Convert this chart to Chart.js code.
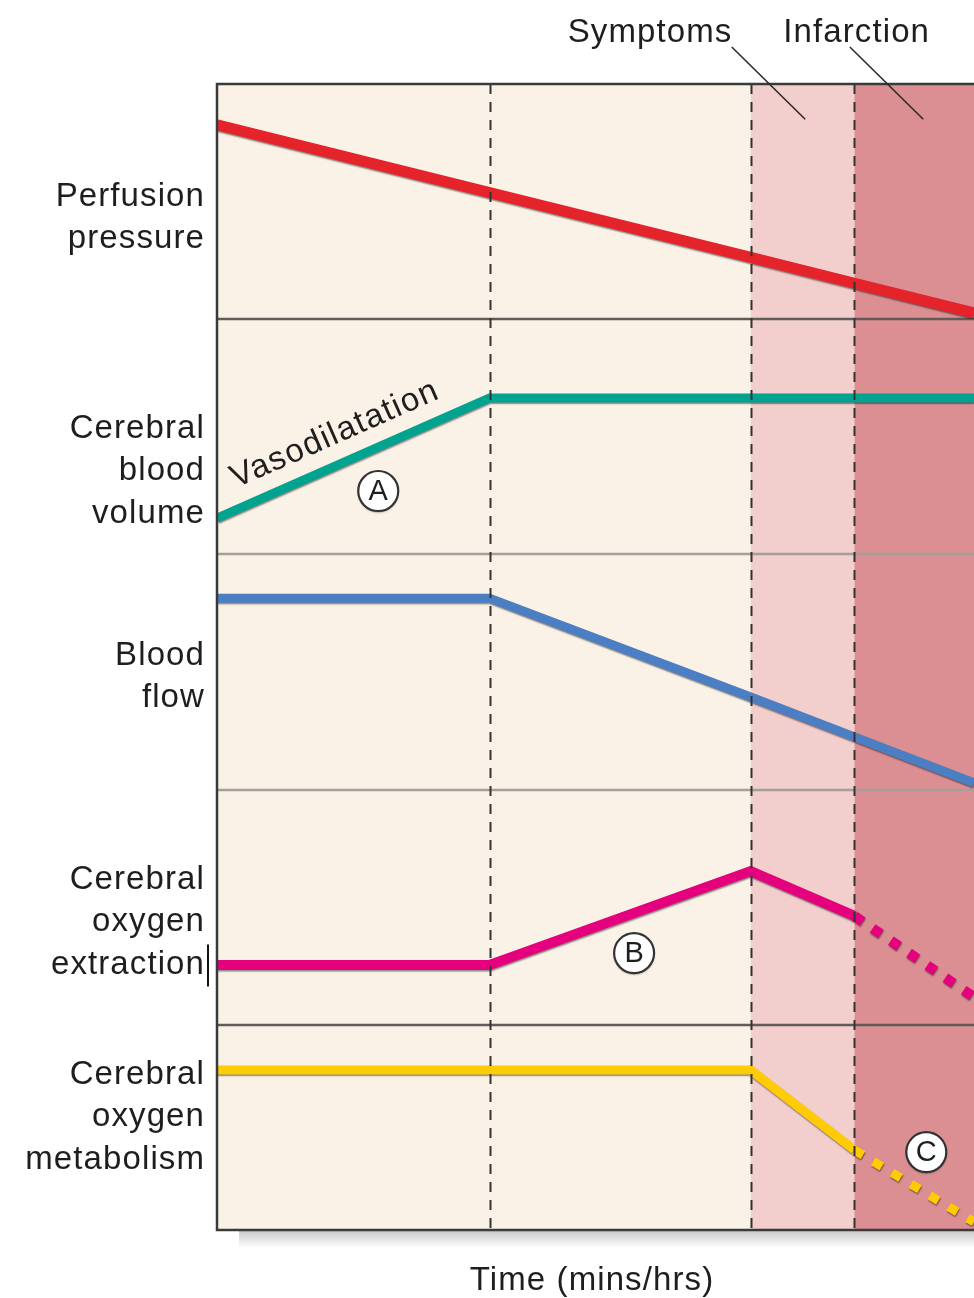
<!DOCTYPE html>
<html>
<head>
<meta charset="utf-8">
<script src="https://cdn.jsdelivr.net/npm/chart.js@4.4.1/dist/chart.umd.min.js"></script>
<style>
  html, body { margin: 0; padding: 0; background: #fff; }
  #wrap { width: 974px; height: 1298px; }
</style>
</head>
<body>
<div id="wrap"><canvas id="chart" width="974" height="1298"></canvas></div>
<script>
// time axis (arbitrary units, mins/hrs)
const times = [0, 3.6, 7.05, 8.42, 10];
const phaseLines = [3.6, 7.05, 8.42];
const zones = [[0, 7.05], [7.05, 8.42], [8.42, 10]];
const zoneColors = ['#FBF2E7', '#F2CECC', '#DC8F93'];

// panels, top to bottom
const panelNames = [
  ['Perfusion', 'pressure'],
  ['Cerebral', 'blood', 'volume'],
  ['Blood', 'flow'],
  ['Cerebral', 'oxygen', 'extraction'],
  ['Cerebral', 'oxygen', 'metabolism']
];
const panelWeights = [235, 235, 236, 235, 205];
const panelLabelY = [43, 35.3, 47.9, 43.8, 55.1];

// series values (0-100 inside each panel)
const perfusionPressure = [82.6, 53.8, 26.2, 15.2, 2.6];
const bloodVolume = [15.3, 66.4, 66.4, 66.4, 66.4];
const bloodFlow = [81.3, 81.3, 39.4, 22.5, 3.0];
const oxygenExtraction = [25.5, 25.5, 65.5, 46.4, 11.9];
const oxygenMetabolism = [78, 78, 78, 39, 3.9];
const dottedFrom = [null, null, null, 3, 3];

const series = [perfusionPressure, bloodVolume, bloodFlow, oxygenExtraction, oxygenMetabolism];
const seriesColors = ['#E4232B', '#00A38F', '#4B7EC3', '#E5007D', '#FFCB05'];
const seriesWidths = [11, 9, 9, 10, 9];

// annotations
const circleNotes = [
  { text: 'A', panel: 1, x: 2.13, y: 26.8 },
  { text: 'B', panel: 3, x: 5.51, y: 30.6 },
  { text: 'C', panel: 4, x: 9.37, y: 38 }
];
const zoneNotes = [
  { text: 'Symptoms', x: 5.72, from: 6.80, to: 7.77, toY: 85 },
  { text: 'Infarction', x: 8.45, from: 8.36, to: 9.33, toY: 85 }
];

const FONT = '"Liberation Sans", Arial, Helvetica, sans-serif';
const TXT = '#1e1e1e';

function setFont(ctx, size, spacing) {
  ctx.font = size + 'px ' + FONT;
  if ('letterSpacing' in ctx) ctx.letterSpacing = (spacing === undefined ? 1.1 : spacing) + 'px';
}

const scales = {
  x: { type: 'linear', min: 0, max: 10, display: false }
};
panelNames.forEach((n, i) => {
  scales['p' + i] = {
    type: 'linear', min: 0, max: 100, display: false,
    position: 'left', stack: 'panels', stackWeight: panelWeights[i],
    weight: panelNames.length - i
  };
});

const panelsPlugin = {
  id: 'panels',
  beforeDatasetsDraw(chart) {
    const { ctx, chartArea: a, scales: s } = chart;
    ctx.save();
    zones.forEach((z, i) => {
      const x0 = s.x.getPixelForValue(z[0]);
      const x1 = s.x.getPixelForValue(z[1]);
      ctx.fillStyle = zoneColors[i];
      ctx.fillRect(x0, a.top, x1 - x0, a.bottom - a.top);
    });
    const sepColors = ['#615c58', '#a69e98', '#a69e98', '#615c58'];
    for (let i = 0; i < panelNames.length - 1; i++) {
      const y = s['p' + i].bottom;
      ctx.strokeStyle = sepColors[i];
      ctx.lineWidth = 2.5;
      ctx.beginPath();
      ctx.moveTo(a.left, y);
      ctx.lineTo(a.right, y);
      ctx.stroke();
    }
    ctx.restore();
  },
  beforeDatasetDraw(chart) {
    const ctx = chart.ctx;
    ctx.save();
    ctx.shadowColor = 'rgba(0,0,0,0.45)';
    ctx.shadowOffsetX = 0.5;
    ctx.shadowOffsetY = 1.5;
    ctx.shadowBlur = 1.5;
  },
  afterDatasetDraw(chart) {
    chart.ctx.restore();
  },
  afterDatasetsDraw(chart) {
    const { ctx, chartArea: a, scales: s } = chart;
    ctx.save();

    // dashed phase lines
    ctx.strokeStyle = '#333';
    ctx.lineWidth = 2;
    ctx.setLineDash([10, 8]);
    phaseLines.forEach(t => {
      const x = Math.round(s.x.getPixelForValue(t)) + 0.5;
      ctx.beginPath();
      ctx.moveTo(x, a.top);
      ctx.lineTo(x, a.bottom);
      ctx.stroke();
    });
    ctx.setLineDash([]);

    // shadow under the bottom edge
    const g = ctx.createLinearGradient(0, a.bottom, 0, a.bottom + 18);
    g.addColorStop(0, 'rgba(0,0,0,0.22)');
    g.addColorStop(1, 'rgba(0,0,0,0)');
    ctx.fillStyle = g;
    ctx.fillRect(a.left + 22, a.bottom, a.right - a.left, 18);

    // frame
    ctx.strokeStyle = '#3a3a3a';
    ctx.lineWidth = 2.5;
    ctx.beginPath();
    ctx.moveTo(a.right, a.top);
    ctx.lineTo(a.left, a.top);
    ctx.lineTo(a.left, a.bottom);
    ctx.lineTo(a.right, a.bottom);
    ctx.stroke();

    // panel names
    ctx.fillStyle = TXT;
    setFont(ctx, 33);
    ctx.textAlign = 'right';
    ctx.textBaseline = 'middle';
    panelNames.forEach((lines, i) => {
      const cy = s['p' + i].getPixelForValue(panelLabelY[i]);
      const lh = 42.5;
      lines.forEach((t, k) => {
        ctx.fillText(t, a.left - 12, cy + (k - (lines.length - 1) / 2) * lh);
      });
    });

    // text cursor artefact after "extraction"
    const ey = s.p3.getPixelForValue(panelLabelY[3]) + 42.5;
    ctx.strokeStyle = '#111';
    ctx.lineWidth = 2;
    ctx.beginPath();
    ctx.moveTo(a.left - 9, ey - 20);
    ctx.lineTo(a.left - 9, ey + 22);
    ctx.stroke();

    // zone labels with leaders
    ctx.textAlign = 'center';
    ctx.textBaseline = 'alphabetic';
    ctx.fillStyle = TXT;
    setFont(ctx, 33);
    zoneNotes.forEach(n => {
      ctx.fillText(n.text, s.x.getPixelForValue(n.x), a.top - 42);
      ctx.strokeStyle = '#2b2b2b';
      ctx.lineWidth = 1.6;
      ctx.beginPath();
      ctx.moveTo(s.x.getPixelForValue(n.from), a.top - 37);
      ctx.lineTo(s.x.getPixelForValue(n.to), s.p0.getPixelForValue(n.toY));
      ctx.stroke();
    });

    // Vasodilatation along the blood volume line
    const vx0 = s.x.getPixelForValue(times[0]);
    const vy0 = s.p1.getPixelForValue(bloodVolume[0]);
    const vx1 = s.x.getPixelForValue(times[1]);
    const vy1 = s.p1.getPixelForValue(bloodVolume[1]);
    const ang = Math.atan2(vy1 - vy0, vx1 - vx0);
    ctx.save();
    ctx.translate(vx0 + 19, vy0 - 30);
    ctx.rotate(ang);
    ctx.textAlign = 'left';
    setFont(ctx, 33, 1.4);
    ctx.fillText('Vasodilatation', 0, 0);
    ctx.restore();

    // circled letters
    circleNotes.forEach(c => {
      const cx = s.x.getPixelForValue(c.x);
      const cy = s['p' + c.panel].getPixelForValue(c.y);
      ctx.save();
      ctx.shadowColor = 'rgba(0,0,0,0.4)';
      ctx.shadowOffsetY = 1.5;
      ctx.shadowBlur = 2;
      ctx.beginPath();
      ctx.arc(cx, cy, 20, 0, Math.PI * 2);
      ctx.fillStyle = '#fff';
      ctx.fill();
      ctx.restore();
      ctx.strokeStyle = '#333';
      ctx.lineWidth = 2.2;
      ctx.beginPath();
      ctx.arc(cx, cy, 20, 0, Math.PI * 2);
      ctx.stroke();
      ctx.fillStyle = TXT;
      setFont(ctx, 29, 0);
      ctx.textAlign = 'center';
      ctx.textBaseline = 'middle';
      ctx.fillText(c.text, cx, cy + 1);
    });

    // x axis title
    setFont(ctx, 33);
    ctx.textAlign = 'center';
    ctx.textBaseline = 'alphabetic';
    ctx.fillStyle = TXT;
    ctx.fillText('Time (mins/hrs)', 592, a.bottom + 60);

    ctx.restore();
  }
};

new Chart(document.getElementById('chart'), {
  type: 'line',
  data: {
    datasets: series.map((vals, i) => ({
      data: vals.map((v, j) => ({ x: times[j], y: v })),
      yAxisID: 'p' + i,
      borderColor: seriesColors[i],
      borderWidth: seriesWidths[i],
      borderJoinStyle: 'miter',
      borderCapStyle: 'butt',
      pointRadius: 0,
      tension: 0,
      fill: false,
      segment: {
        borderDash: c => (dottedFrom[i] !== null && c.p0DataIndex >= dottedFrom[i]) ? [10, 12] : undefined
      }
    }))
  },
  options: {
    responsive: false,
    animation: false,
    devicePixelRatio: 1,
    events: [],
    layout: { padding: { left: 217, right: 0, top: 84, bottom: 68 } },
    scales: scales,
    plugins: {
      legend: { display: false },
      tooltip: { enabled: false }
    }
  },
  plugins: [panelsPlugin]
});
</script>
</body>
</html>
